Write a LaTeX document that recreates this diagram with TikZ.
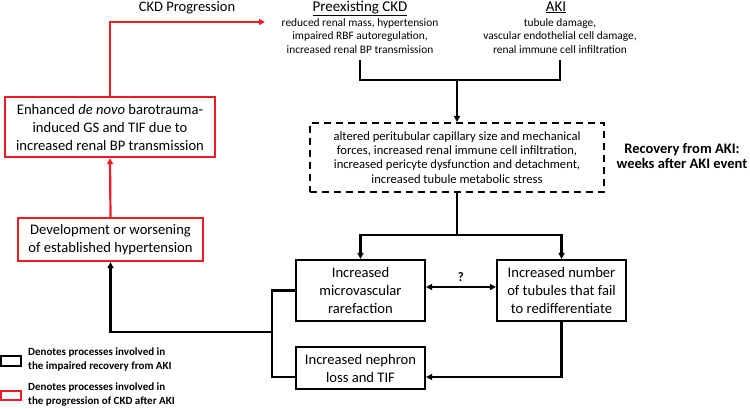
\documentclass[tikz,border=0pt]{standalone}
\usepackage{fontspec}
\setmainfont{Carlito}
\usetikzlibrary{arrows.meta}
\definecolor{bred}{RGB}{237,28,36}
\begin{document}
\begin{tikzpicture}[x=1pt,y=-1pt,
  >={Triangle[length=6pt,width=6pt]},
  conn/.style={line width=2.2pt},
  bbox/.style={draw,line width=2.2pt,align=center,inner sep=2pt,font=\fontsize{14.6}{18}\selectfont},
  rbox/.style={bbox,draw=bred},
  small/.style={align=center,font=\fontsize{11.4}{13.5}\selectfont,inner sep=0pt},
  ttl/.style={font=\fontsize{15}{15}\selectfont,inner sep=0pt},
  leg/.style={align=left,font=\bfseries\fontsize{11}{14.5}\selectfont,inner sep=0pt,anchor=west}]
\useasboundingbox (0,0) rectangle (750,408);

% top texts
\node[ttl,anchor=base] (ckdt) at (360,11) {\underline{Preexisting CKD}};
\node[small] (ckd) at (360,36) {reduced renal mass, hypertension\\impaired RBF autoregulation,\\increased renal BP transmission};
\node[ttl,anchor=base] (akit) at (556,11) {\underline{AKI}};
\node[small] (aki) at (560,36) {tubule damage,\\vascular endothelial cell damage,\\renal immune cell infiltration};
\node[font=\fontsize{14.5}{15}\selectfont,inner sep=0pt] (prog) at (187,8) {CKD Progression};

% boxes
\node[rbox,minimum width=210pt,minimum height=60pt] (enh) at (110,127) {Enhanced \emph{de novo} barotrauma-\\induced GS and TIF due to\\increased renal BP transmission};
\node[rbox,minimum width=185pt,minimum height=43pt] (dev) at (110.5,239.5) {Development or worsening\\of established hypertension};
\node[draw,line width=2.2pt,dash pattern=on 7pt off 5pt,minimum width=294pt,minimum height=69pt,align=center,font=\fontsize{12.6}{14.2}\selectfont] (dash) at (457,157.5) {altered peritubular capillary size and mechanical\\forces, increased renal immune cell infiltration,\\increased pericyte dysfunction and detachment,\\increased tubule metabolic stress};
\node[align=center,font=\bfseries\fontsize{14.5}{14.5}\selectfont] (rec) at (682,156) {Recovery from AKI:\\weeks after AKI event};
\node[bbox,minimum width=129pt,minimum height=61pt] (micro) at (360.5,290.5) {Increased\\microvascular\\rarefaction};
\node[bbox,minimum width=129pt,minimum height=61pt] (tub) at (561.5,290.5) {Increased number\\of tubules that fail\\to redifferentiate};
\node[bbox,minimum width=129pt,minimum height=42pt] (neph) at (360.5,368) {Increased nephron\\loss and TIF};
\node[font=\bfseries\fontsize{13}{14}\selectfont,inner sep=0pt] (q) at (461,277) {?};

% coordinates
\coordinate (ckdb) at (360,60);
\coordinate (ckdc) at (360,80);
\coordinate (akib) at (560,60);
\coordinate (akic) at (560,80);
\coordinate (mid) at (457,80);
\coordinate (split) at (457,235);
\coordinate (redtip) at (265,22);
\coordinate (junc) at (272,332);

% connectors
\draw[conn] (ckdb) -- (ckdc) -- (akic) -- (akib);
\draw[conn,->] (mid) -- (dash.north);
\draw[conn] (dash.south) -- (split);
\draw[conn,->] (split) -| (micro.north);
\draw[conn,->] (split) -| (tub.north);
\draw[conn,<->] ([yshift=3.5pt]micro.east) -- ([yshift=3.5pt]tub.west);
\draw[conn,->] (tub.south) |- ([yshift=-9pt]neph.east);
\draw[conn] (micro.west) -| (junc) |- ([yshift=-9pt]neph.west);
\draw[conn,->] (junc) -| (dev.south);
\draw[conn,draw=bred,->,>={Triangle[length=6pt,width=6pt,fill=bred]}] (dev.north) -- (enh.south);
\draw[conn,draw=bred,->,>={Triangle[length=6pt,width=6pt,fill=bred]}] (enh.north) |- (redtip);

% legend
\draw[line width=2.2pt] (1,356) rectangle (21,366);
\node[leg] (l1) at (28,359.5) {Denotes processes involved in\\the impaired recovery from AKI};
\draw[line width=2.2pt,draw=bred] (1,391) rectangle (21,400);
\node[leg] (l2) at (28,394.5) {Denotes processes involved in\\the progression of CKD after AKI};
\end{tikzpicture}
\end{document}
